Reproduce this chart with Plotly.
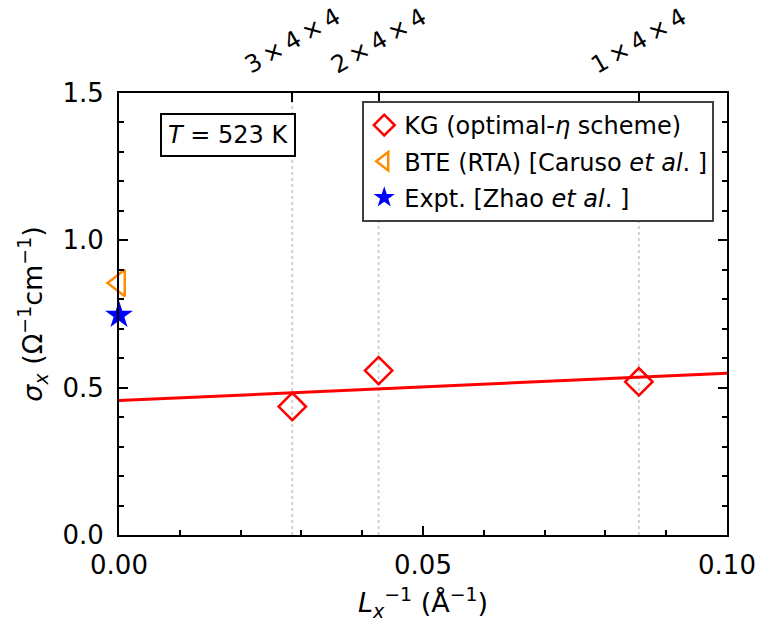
import numpy as np
import plotly.graph_objects as go

# Inverse supercell length (1/Å) and KG conductivity (1/(Ohm cm))
kg_x = [0.0285, 0.0427, 0.0855]
kg_y = [0.436, 0.558, 0.520]
supercell_labels = ["3\u2009×\u20094\u2009×\u20094", "2\u2009×\u20094\u2009×\u20094", "1\u2009×\u20094\u2009×\u20094"]

# Reference values at the bulk limit
bte_x = [0.0]
bte_y = [0.855]
expt_x = [0.0]
expt_y = [0.746]

# Linear extrapolation of KG results
slope, intercept = np.polyfit(kg_x, kg_y, 1)
fit_x = np.array([0.0, 0.1])
fit_y = intercept + slope * fit_x

FONT = "DejaVu Sans"
fig = go.Figure()

# Dotted guides at the supercell sizes
gx, gy = [], []
for xv in kg_x:
    gx += [xv, xv, None]
    gy += [0.0, 1.5, None]
fig.add_trace(go.Scatter(x=gx, y=gy, mode="lines", showlegend=False,
                         line=dict(color="#cccccc", width=1.8, dash="dot"),
                         hoverinfo="skip"))

fig.add_trace(go.Scatter(x=fit_x, y=fit_y, mode="lines", showlegend=False,
                         line=dict(color="#ff0000", width=3)))

fig.add_trace(go.Scatter(x=kg_x, y=kg_y, mode="markers",
                         name="KG (optimal-<i>η</i> scheme)", legendgroup="a",
                         marker=dict(symbol="diamond-open", size=21, color="#ff0000",
                                     line=dict(width=2.5, color="#ff0000"))))
fig.add_trace(go.Scatter(x=bte_x, y=bte_y, mode="markers",
                         name="BTE (RTA) [Caruso <i>et al</i>. ]", legendgroup="b",
                         marker=dict(symbol="triangle-left-open", size=23, color="#ff8c00",
                                     line=dict(width=2.5, color="#ff8c00")), cliponaxis=False))
fig.add_trace(go.Scatter(x=expt_x, y=expt_y, mode="markers",
                         name="Expt. [Zhao <i>et al</i>. ]", legendgroup="c",
                         marker=dict(symbol="star", size=21, color="#0000ff",
                                     line=dict(width=0)), cliponaxis=False))

# Invisible trace to activate the top axis
fig.add_trace(go.Scatter(x=kg_x, y=kg_y, xaxis="x2", mode="markers",
                         marker=dict(opacity=0), showlegend=False, hoverinfo="skip"))

axis_common = dict(showline=True, linecolor="black", linewidth=2, ticks="inside",
                   tickcolor="black", tickwidth=1.5, ticklen=9, showgrid=False,
                   zeroline=False, tickfont=dict(family=FONT, size=26, color="black"))

fig.update_layout(
    width=768, height=631,
    margin=dict(l=119, r=38, t=93, b=96),
    paper_bgcolor="white", plot_bgcolor="white",
    xaxis=dict(range=[0, 0.1], tickvals=[0, 0.05, 0.1], tickformat=".2f",
               minor=dict(dtick=0.01, tick0=0, ticks="inside", ticklen=5,
                          tickcolor="black", tickwidth=1.5),
               title=dict(text="<i>L</i><sub><i>x</i></sub><sup>−1</sup> (Å<sup>−1</sup>)",
                          font=dict(family=FONT, size=27, color="black"), standoff=14),
               ticklabelstandoff=6, **axis_common),
    xaxis2=dict(range=[0, 0.1], overlaying="x", side="top", tickvals=kg_x,
                showticklabels=False, showline=True, linecolor="black", linewidth=2,
                ticks="inside", ticklen=9, tickwidth=1.5, tickcolor="black",
                showgrid=False, zeroline=False),
    yaxis=dict(range=[0, 1.5], tickvals=[0, 0.5, 1.0, 1.5], tickformat=".1f",
               mirror="ticks",
               minor=dict(dtick=0.1, tick0=0, ticks="inside", ticklen=5,
                          tickcolor="black", tickwidth=1.5),
               title=dict(text="<i>σ</i><sub><i>x</i></sub> (Ω<sup>−1</sup>cm<sup>−1</sup>)",
                          font=dict(family=FONT, size=27, color="black"), standoff=12),
               ticklabelstandoff=8, **axis_common),
    legend=dict(x=0.979, y=0.982, xanchor="right", yanchor="top",
                bgcolor="white", bordercolor="#404040", borderwidth=2,
                font=dict(family=FONT, size=24, color="black"),
                traceorder="grouped", tracegroupgap=2),
    showlegend=True,
)

# Supercell labels above the top axis
for xv, lab in zip(kg_x, supercell_labels):
    fig.add_annotation(x=xv, xref="x2", y=1.118, yref="paper", text=lab,
                       xanchor="center", yanchor="middle",
                       textangle=-30, showarrow=False,
                       font=dict(family=FONT, size=24, color="black"))

# Temperature label
fig.add_annotation(x=0.18, y=0.905, xref="paper", yref="paper",
                   xanchor="center", yanchor="middle",
                   text="<i>T</i> = 523 K", showarrow=False,
                   font=dict(family=FONT, size=24, color="black"),
                   bordercolor="black", borderwidth=2, borderpad=6, bgcolor="white")

fig.write_html("out.html")
